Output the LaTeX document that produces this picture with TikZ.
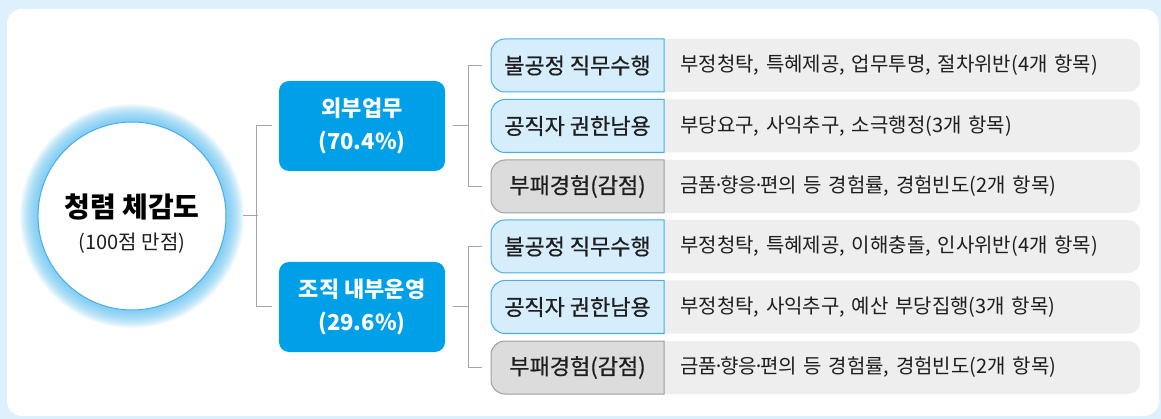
\documentclass[tikz,border=0pt]{standalone}
\usepackage{fontspec}
\setmainfont{Noto Sans CJK KR}
\newfontfamily\catfont[FakeBold=0.6]{Noto Sans CJK KR}
\usetikzlibrary{backgrounds,positioning}
\definecolor{page-blue}{RGB}{221,240,252}
\definecolor{main-blue}{RGB}{0,160,233}
\definecolor{light-blue}{RGB}{214,237,251}
\definecolor{edge-blue}{RGB}{70,174,232}
\definecolor{glow-blue}{RGB}{95,195,245}
\definecolor{cat-gray}{RGB}{220,220,220}
\definecolor{edge-gray}{RGB}{160,160,160}
\definecolor{desc-gray}{RGB}{238,238,238}
\definecolor{link-gray}{RGB}{165,165,165}
\definecolor{ink}{RGB}{30,30,30}
\newcommand{\mdot}{\kern-.2em·\kern-.2em}
\tikzstyle{link}=[draw=link-gray, line width=1pt]
\tikzstyle{root}=[circle, minimum size=188pt, draw=edge-blue, fill=white, line width=1pt]
\tikzstyle{roottitle}=[font=\fontsize{28pt}{32pt}\selectfont\bfseries, text=black]
\tikzstyle{rootnote}=[font=\fontsize{20pt}{24pt}\selectfont, text=ink]
\tikzstyle{area}=[fill=main-blue, rounded corners=10pt, minimum width=166pt, minimum height=90pt, text=white, align=center, font=\fontsize{22pt}{33pt}\selectfont\bfseries]
\tikzstyle{catblue}=[fill=light-blue, draw=edge-blue, line width=1pt]
\tikzstyle{catgray}=[fill=cat-gray, draw=edge-gray, line width=1pt]
\tikzstyle{cat}=[inner sep=0pt, text=ink, font=\fontsize{22pt}{26pt}\catfont]
\tikzstyle{desc}=[fill=desc-gray, rounded corners=12pt, minimum height=53pt, text width=424pt, inner xsep=36pt, inner ysep=0pt, align=left, text=ink, font=\fontsize{20pt}{24pt}\selectfont]

\begin{document}
\begin{tikzpicture}[x=1pt,y=-1pt]
	\fill[page-blue] (0,0) rectangle (1161,419);
	\fill[white, rounded corners=15pt] (7,9) rectangle (1159,416);
	\foreach \r in {95,96,...,112}
		\fill[glow-blue, opacity=.07] (132,216) circle[radius=\r pt];
	\node[root] (root) at (132,216) {};
	\node[roottitle] (title) at (132,207) {청렴 체감도};
	\node[rootnote] (note) at (132,243) {(100점 만점)};
	\node[area] (ext) at (362,126) {외부업무\\(70.4\%)};
	\node[area] (int) at (362,307) {조직 내부운영\\(29.6\%)};
	\foreach \n/\y/\s/\c/\d in {
		1/65.5/catblue/불공정 직무수행/{부정청탁, 특혜제공, 업무투명, 절차위반(4개 항목)},
		2/126/catblue/공직자 권한남용/{부당요구, 사익추구, 소극행정(3개 항목)},
		3/186.5/catgray/부패경험(감점)/{금품\mdot 향응\mdot 편의 등 경험률, 경험빈도(2개 항목)},
		4/246.5/catblue/불공정 직무수행/{부정청탁, 특혜제공, 이해충돌, 인사위반(4개 항목)},
		5/307/catblue/공직자 권한남용/{부정청탁, 사익추구, 예산 부당집행(3개 항목)},
		6/367.5/catgray/부패경험(감점)/{금품\mdot 향응\mdot 편의 등 경험률, 경험빈도(2개 항목)}}{
		\node[desc, anchor=west] (d\n) at (644,\y) {\d};
		\draw[\s] (664,\y-26.5) -- (505,\y-26.5) arc[start angle=90,end angle=180,radius=14pt]
			-- (491,\y+12.5) arc[start angle=180,end angle=270,radius=14pt] -- (664,\y+26.5) -- cycle;
		\node[cat] (c\n) at (577.5,\y) {\c};
	}
	\draw[link] ([xshift=16pt]root.east) -- ++(15,0);
	\draw[link] ([xshift=-7pt]ext.west) -- ++(-15,0) |- ([xshift=-7pt]int.west);
	\draw[link] ([xshift=8pt]ext.east) -- ++(15,0);
	\draw[link] ([xshift=8pt]int.east) -- ++(15,0);
	\draw[link] (482,65.5) -- ++(-14,0) |- (482,186.5);
	\draw[link] (482,246.5) -- ++(-14,0) |- (482,367.5);
\end{tikzpicture}
\end{document}
